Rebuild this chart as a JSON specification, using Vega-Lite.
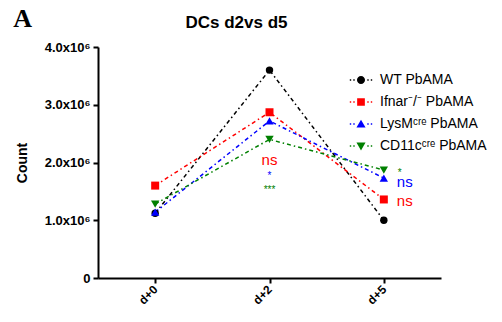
{
  "$schema": "https://vega.github.io/schema/vega-lite/v6.json",
  "background": "white",
  "padding": {"left": 13, "top": 6, "right": 0, "bottom": 0},
  "title": {"text": "A", "anchor": "start", "frame": "bounds", "font": "Liberation Serif", "fontSize": 26, "fontWeight": "bold", "color": "black", "offset": 0, "dy": 18, "dx": -2},
  "datasets": {
    "main": [
      {"day": "d+0", "series": "WT PbAMA", "count": 1120000},
      {"day": "d+2", "series": "WT PbAMA", "count": 3600000},
      {"day": "d+5", "series": "WT PbAMA", "count": 1000000},
      {"day": "d+0", "series": "Ifnar⁻/⁻ PbAMA", "count": 1600000},
      {"day": "d+2", "series": "Ifnar⁻/⁻ PbAMA", "count": 2870000},
      {"day": "d+5", "series": "Ifnar⁻/⁻ PbAMA", "count": 1360000},
      {"day": "d+0", "series": "LysMᶜʳᵉ PbAMA", "count": 1140000},
      {"day": "d+2", "series": "LysMᶜʳᵉ PbAMA", "count": 2720000},
      {"day": "d+5", "series": "LysMᶜʳᵉ PbAMA", "count": 1730000},
      {"day": "d+0", "series": "CD11cᶜʳᵉ PbAMA", "count": 1280000},
      {"day": "d+2", "series": "CD11cᶜʳᵉ PbAMA", "count": 2400000},
      {"day": "d+5", "series": "CD11cᶜʳᵉ PbAMA", "count": 1870000}
    ],
    "ann": [
      {"day": "d+2", "series": "Ifnar⁻/⁻ PbAMA", "count": 1960000, "label": "ns"},
      {"day": "d+2", "series": "LysMᶜʳᵉ PbAMA", "count": 1710000, "label": "*"},
      {"day": "d+2", "series": "CD11cᶜʳᵉ PbAMA", "count": 1470000, "label": "***"},
      {"day": "d+5", "series": "CD11cᶜʳᵉ PbAMA", "count": 1760000, "label": "*"},
      {"day": "d+5", "series": "LysMᶜʳᵉ PbAMA", "count": 1576000, "label": "ns"},
      {"day": "d+5", "series": "Ifnar⁻/⁻ PbAMA", "count": 1247000, "label": "ns"}
    ]
  },
  "vconcat": [
    {
      "width": 343,
      "height": 231,
      "title": {"text": "DCs d2vs d5", "font": "Liberation Sans", "fontSize": 17, "fontWeight": "bold", "color": "black", "anchor": "middle", "dx": -33, "offset": 9},
      "encoding": {
        "x": {"field": "day", "type": "nominal", "sort": ["d+0", "d+2", "d+5"], "scale": {"type": "point", "padding": 0.5, "domain": ["d+0", "d+2", "d+5"]},
          "axis": {"title": null, "labelAngle": -45, "labelAlign": "right", "labelBaseline": "middle", "labelFont": "Liberation Sans", "labelFontWeight": "bold", "labelFontSize": 12, "labelPadding": 4}},
        "y": {"field": "count", "type": "quantitative", "scale": {"domain": [0, 4000000], "nice": false},
          "axis": {"title": "Count", "values": [0, 1000000, 2000000, 3000000, 4000000], "labelExpr": "datum.value == 0 ? '0' : format(datum.value / 1000000, '.1f') + 'x10⁶'", "labelFont": "Liberation Sans", "labelFontWeight": "bold", "labelFontSize": 13, "labelPadding": 3, "titleFont": "Liberation Sans", "titleFontSize": 14, "titleFontWeight": "bold", "titlePadding": 15}},
        "color": {"field": "series", "type": "nominal", "scale": {"domain": ["WT PbAMA", "Ifnar⁻/⁻ PbAMA", "LysMᶜʳᵉ PbAMA", "CD11cᶜʳᵉ PbAMA"], "range": ["#000000", "#ff0000", "#0000ff", "#008000"]}}
      },
      "layer": [
        {"data": {"name": "main"}, "mark": {"type": "line", "strokeWidth": 1.5, "strokeDash": [4, 3, 1.5, 3]}},
        {"data": {"name": "main"}, "transform": [{"filter": "datum.series == 'WT PbAMA'"}], "mark": {"type": "point", "filled": true, "opacity": 1, "shape": "circle", "size": 55}},
        {"data": {"name": "main"}, "transform": [{"filter": "datum.series == 'Ifnar⁻/⁻ PbAMA'"}], "mark": {"type": "point", "filled": true, "opacity": 1, "shape": "square", "size": 64}},
        {"data": {"name": "main"}, "transform": [{"filter": "datum.series == 'LysMᶜʳᵉ PbAMA'"}], "mark": {"type": "point", "filled": true, "opacity": 1, "shape": "triangle-up", "size": 70}},
        {"data": {"name": "main"}, "transform": [{"filter": "datum.series == 'CD11cᶜʳᵉ PbAMA'"}], "mark": {"type": "point", "filled": true, "opacity": 1, "shape": "triangle-down", "size": 70}},
        {"data": {"name": "main"}, "mark": {"type": "point", "filled": true, "opacity": 0, "size": 49},
          "encoding": {
            "shape": {"field": "series", "type": "nominal", "scale": {"domain": ["WT PbAMA", "Ifnar⁻/⁻ PbAMA", "LysMᶜʳᵉ PbAMA", "CD11cᶜʳᵉ PbAMA"],
              "range": [
                "M-3.2,-0.22H-2.8V0.22H-3.2Z M-2.2,-0.22H-1.8V0.22H-2.2Z M1.8,-0.22H2.2V0.22H1.8Z M2.8,-0.22H3.2V0.22H2.8Z M0,-1.15A1.15,1.15 0 1 1 0,1.15A1.15,1.15 0 1 1 0,-1.15Z",
                "M-3.2,-0.22H-2.8V0.22H-3.2Z M-2.2,-0.22H-1.8V0.22H-2.2Z M1.8,-0.22H2.2V0.22H1.8Z M2.8,-0.22H3.2V0.22H2.8Z M-1.1,-1.1H1.1V1.1H-1.1Z",
                "M-3.2,-0.22H-2.8V0.22H-3.2Z M-2.2,-0.22H-1.8V0.22H-2.2Z M1.8,-0.22H2.2V0.22H1.8Z M2.8,-0.22H3.2V0.22H2.8Z M0,-1.25L1.3,1H-1.3Z",
                "M-3.2,-0.22H-2.8V0.22H-3.2Z M-2.2,-0.22H-1.8V0.22H-2.2Z M1.8,-0.22H2.2V0.22H1.8Z M2.8,-0.22H3.2V0.22H2.8Z M0,1.25L1.3,-1H-1.3Z"
              ]}}
          }},
        {"data": {"name": "ann"}, "transform": [{"filter": "datum.day == 'd+2' && datum.label == 'ns'"}], "mark": {"type": "text", "font": "Liberation Sans", "fontSize": 15, "align": "center", "baseline": "alphabetic"}, "encoding": {"text": {"field": "label"}}},
        {"data": {"name": "ann"}, "transform": [{"filter": "datum.day == 'd+2' && datum.label != 'ns'"}], "mark": {"type": "text", "font": "Liberation Sans", "fontSize": 10, "align": "center", "baseline": "alphabetic"}, "encoding": {"text": {"field": "label"}}},
        {"data": {"name": "ann"}, "transform": [{"filter": "datum.day == 'd+5' && datum.label == 'ns'"}], "mark": {"type": "text", "font": "Liberation Sans", "fontSize": 15, "align": "left", "dx": 13, "baseline": "alphabetic"}, "encoding": {"text": {"field": "label"}}},
        {"data": {"name": "ann"}, "transform": [{"filter": "datum.day == 'd+5' && datum.label != 'ns'"}], "mark": {"type": "text", "font": "Liberation Sans", "fontSize": 10, "align": "left", "dx": 14, "baseline": "alphabetic"}, "encoding": {"text": {"field": "label"}}}
      ]
    }
  ],
  "config": {
    "view": {"stroke": null},
    "axis": {"domainColor": "black", "domainWidth": 2, "tickColor": "black", "tickWidth": 2, "tickSize": 5, "labelColor": "black", "titleColor": "black", "grid": false},
    "legend": {"title": null, "orient": "none", "legendX": 256, "legendY": 26, "padding": 0, "symbolSize": 49, "symbolStrokeWidth": 0, "labelOffset": 12, "rowPadding": 8, "labelFont": "Liberation Sans", "labelFontSize": 14, "labelColor": "black", "labelLimit": 300}
  }
}
